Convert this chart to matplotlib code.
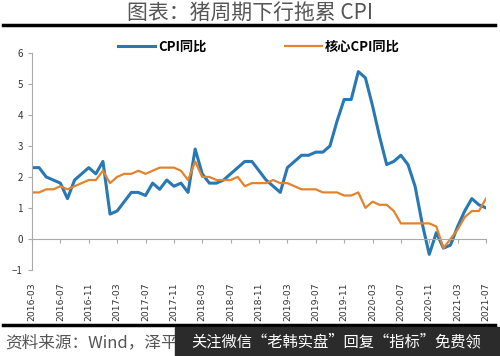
import matplotlib
matplotlib.use('Agg')
import matplotlib.pyplot as plt
from matplotlib.patches import Rectangle

plt.rcParams['font.family'] = ['Noto Sans CJK SC', 'DejaVu Sans']

# monthly, 2016-03 .. 2021-07
cpi = [2.3, 2.3, 2.0, 1.9, 1.8, 1.3, 1.9, 2.1, 2.3, 2.1,
       2.5, 0.8, 0.9, 1.2, 1.5, 1.5, 1.4, 1.8, 1.6, 1.9, 1.7, 1.8,
       1.5, 2.9, 2.1, 1.8, 1.8, 1.9, 2.1, 2.3, 2.5, 2.5, 2.2, 1.9,
       1.7, 1.5, 2.3, 2.5, 2.7, 2.7, 2.8, 2.8, 3.0, 3.8, 4.5, 4.5,
       5.4, 5.2, 4.3, 3.3, 2.4, 2.5, 2.7, 2.4, 1.7, 0.5, -0.5, 0.2,
       -0.3, -0.2, 0.4, 0.9, 1.3, 1.1, 1.0]
core = [1.5, 1.5, 1.6, 1.6, 1.7, 1.6, 1.7, 1.8, 1.9, 1.9,
        2.2, 1.8, 2.0, 2.1, 2.1, 2.2, 2.1, 2.2, 2.3, 2.3, 2.3, 2.2,
        1.9, 2.5, 2.0, 2.0, 1.9, 1.9, 1.9, 2.0, 1.7, 1.8, 1.8, 1.8,
        1.9, 1.8, 1.8, 1.7, 1.6, 1.6, 1.6, 1.5, 1.5, 1.5, 1.4, 1.4,
        1.5, 1.0, 1.2, 1.1, 1.1, 0.9, 0.5, 0.5, 0.5, 0.5, 0.5, 0.4,
        -0.3, 0.0, 0.3, 0.7, 0.9, 0.9, 1.3]
tick_labels = ['2016-03', '2016-07', '2016-11', '2017-03', '2017-07', '2017-11',
               '2018-03', '2018-07', '2018-11', '2019-03', '2019-07', '2019-11',
               '2020-03', '2020-07', '2020-11', '2021-03', '2021-07']
x = list(range(len(cpi)))

fig = plt.figure(figsize=(5, 3.56), dpi=100)
ax = fig.add_axes([0.064, 0.242, 0.908, 0.609])

ax.plot(x, cpi, color='#2878b4', lw=2.2, label='CPI同比', solid_joinstyle='round')
ax.plot(x, core, color='#e2832e', lw=1.6, label='核心CPI同比', solid_joinstyle='round')

for s in ['top', 'right']:
    ax.spines[s].set_visible(False)
ax.spines['bottom'].set_position(('data', 0))
ax.spines['bottom'].set_color('#aaaaaa')
ax.spines['left'].set_color('#aaaaaa')

ax.set_xlim(0, len(cpi) - 1)
ax.set_ylim(-1, 6)
ax.set_yticks(range(-1, 7))
ax.set_xticks(x[::4])
ax.set_xticklabels(tick_labels, rotation=90, fontsize=6.7, color='#333333',
                   family='DejaVu Sans', va='top', ha='center')
ax.tick_params(axis='x', length=3, color='#aaaaaa', pad=28)
ax.tick_params(axis='y', length=3, color='#aaaaaa', labelsize=7, labelcolor='#333333')

ax.legend(loc='upper center', bbox_to_anchor=(0.5, 1.115), ncol=2, frameon=False,
          prop={'weight': 'bold', 'size': 9.5}, handlelength=2.8, columnspacing=6,
          handletextpad=0.2)

fig.text(0.5, 0.963, '图表：猪周期下行拖累 CPI', ha='center', va='center',
         fontsize=15, color='#555555', weight='light')
fig.add_artist(plt.Line2D([0.006, 0.99], [0.93, 0.93], color='black', lw=2.5))
fig.add_artist(plt.Line2D([0.006, 0.99], [0.087, 0.087], color='black', lw=2.5))

fig.text(0.01, 0.037, '资料来源：Wind，泽平宏观', ha='left', va='center',
         fontsize=12, color='#555555', style='italic')
fig.add_artist(Rectangle((0.35, 0.0), 0.65, 0.081, transform=fig.transFigure,
                         color='#2b2b2b', zorder=5))
fig.text(0.672, 0.04, '关注微信“老韩实盘”回复“指标”免费领', ha='center', va='center',
         fontsize=11, color='white', zorder=6)

fig.savefig('out.png', dpi=100)
